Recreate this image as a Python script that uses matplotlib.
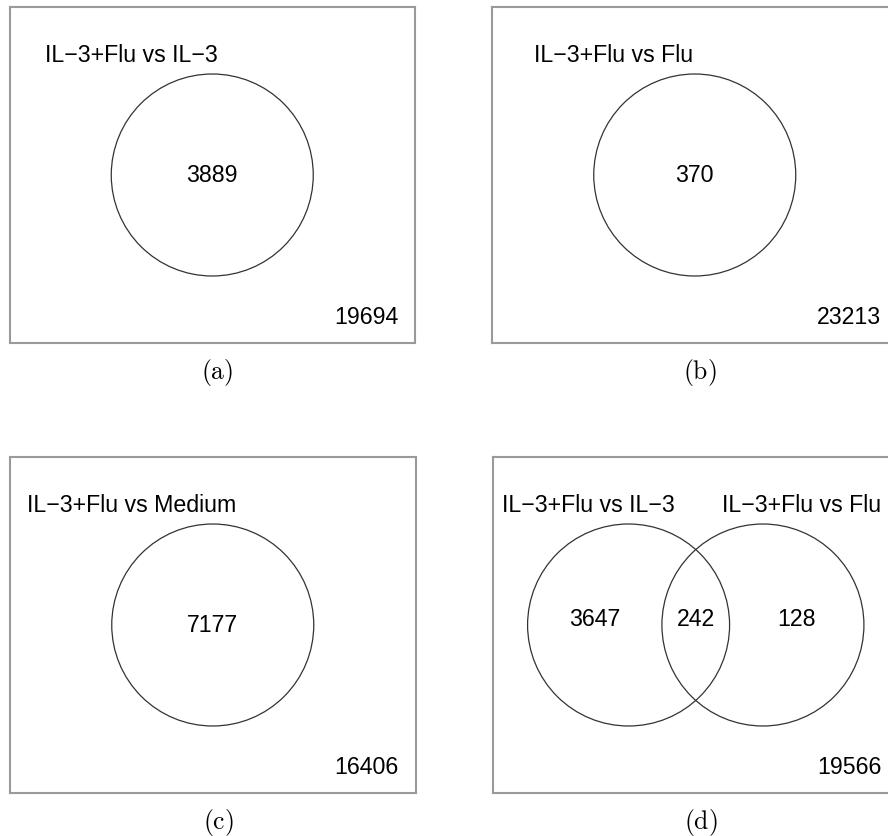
"""Venn diagrams of differentially expressed genes, four panels."""
import matplotlib.pyplot as plt
from matplotlib.patches import Circle

plt.rcParams["mathtext.fontset"] = "cm"

# data
set_titles = [
    ["IL\u22123+Flu vs IL\u22123"],
    ["IL\u22123+Flu vs Flu"],
    ["IL\u22123+Flu vs Medium"],
    ["IL\u22123+Flu vs IL\u22123", "IL\u22123+Flu vs Flu"],
]
region_counts = [[3889], [370], [7177], [3647, 242, 128]]
outside_counts = [19694, 23213, 16406, 19566]
captions = ["(a)", "(b)", "(c)", "(d)"]

# layout in pixels (figure is 888 x 836 at 100 dpi)
W, H = 888, 836
BOX_W, BOX_H = 405.5, 336
box_origin = [(9.5, 7), (492, 7), (10, 457), (493, 457)]
R = 101

fig = plt.figure(figsize=(W / 100, H / 100), dpi=100)
txt = dict(fontsize=16.7, family=["Liberation Sans", "DejaVu Sans"], color="black")

for i, (x0, y0) in enumerate(box_origin):
    ax = fig.add_axes([x0 / W, 1 - (y0 + BOX_H) / H, BOX_W / W, BOX_H / H])
    ax.set_xlim(0, BOX_W)
    ax.set_ylim(BOX_H, 0)
    ax.set_xticks([])
    ax.set_yticks([])
    for sp in ax.spines.values():
        sp.set_color("#9a9a9a")
        sp.set_linewidth(1.5)

    cy = BOX_H / 2
    if len(set_titles[i]) == 1:
        ax.add_patch(Circle((BOX_W / 2, cy), R, fill=False, ec="#333333", lw=0.9))
        ax.text(122, 55, set_titles[i][0], ha="center", va="baseline", **txt)
        ax.text(BOX_W / 2, cy + 1, f"{region_counts[i][0]}", ha="center", va="center", **txt)
    else:
        centers = [BOX_W / 2 - 0.665 * R, BOX_W / 2 + 0.665 * R]
        for cx in centers:
            ax.add_patch(Circle((cx, cy), R, fill=False, ec="#333333", lw=0.9))
        for cx, title in zip([95.5, 309], set_titles[i]):
            ax.text(cx, 55, title, ha="center", va="baseline", **txt)
        label_x = [centers[0] - 0.335 * R, BOX_W / 2, centers[1] + 0.335 * R]
        for lx, n in zip(label_x, region_counts[i]):
            ax.text(lx, cy - 6, f"{n}", ha="center", va="center", **txt)
    ax.text(388.5, 310, f"{outside_counts[i]}", ha="right", va="center", **txt)

    fig.text((x0 + 208) / W, 1 - (y0 + 365) / H, r"$\mathrm{" + captions[i] + "}$",
             ha="center", va="center", fontsize=18.5)

fig.savefig("out.png", dpi=100)
